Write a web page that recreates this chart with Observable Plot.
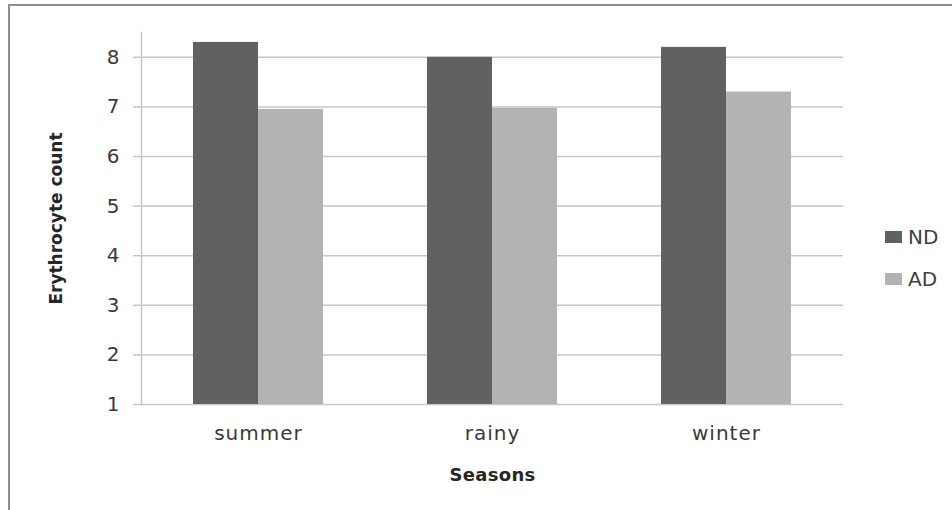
<!DOCTYPE html>
<html>
<head>
<meta charset="utf-8">
<script src="https://cdn.jsdelivr.net/npm/d3@7"></script>
<script src="https://cdn.jsdelivr.net/npm/@observablehq/plot@0.6"></script>
<style>
  html, body { margin: 0; padding: 0; background: #fff; }
  #wrap { position: relative; width: 952px; height: 510px; overflow: hidden; font-family: "DejaVu Sans", sans-serif; }
  #edge { position: absolute; left: 8px; top: 4px; width: 960px; height: 520px;
          border-left: 2px solid #8f8f8f; border-top: 2px solid #8f8f8f; }
  #chart { position: absolute; left: 0; top: 0; }
  #chart svg { font-family: "DejaVu Sans", sans-serif; }
  g[aria-label="fx-axis tick label"] text { letter-spacing: 1px; }
  g[aria-label="y-axis label"] text { font-size: 17px; font-weight: bold; fill: #262626; }
  g[aria-label="fx-axis label"] text { font-size: 18px; font-weight: bold; fill: #262626; letter-spacing: 0.3px; }
  .key { position: absolute; left: 885px; display: flex; align-items: center; font-size: 20px; color: #404040; }
  .key i { display: inline-block; width: 17px; height: 12px; margin-right: 6px; }
</style>
</head>
<body>
<div id="wrap">
  <div id="edge"></div>
  <div id="chart"></div>
</div>
<script>
// Mean erythrocyte count by season, for the ND and AD groups
const seasons = ["summer", "rainy", "winter"];
const series = ["ND", "AD"];
const ndValues = [8.3, 8.0, 8.2];
const adValues = [6.95, 6.97, 7.3];
const seriesColors = ["#616161", "#b3b3b3"];
const yTicks = [1, 2, 3, 4, 5, 6, 7, 8];

const rows = seasons.flatMap((season, i) => [
  {season, series: "ND", value: ndValues[i]},
  {season, series: "AD", value: adValues[i]}
]);

const grid = "#c6c6c6";

const chart = Plot.plot({
  width: 952,
  height: 510,
  marginLeft: 140,
  marginRight: 109,
  marginTop: 32,
  marginBottom: 106,
  fx: {domain: seasons, padding: 0},
  x: {domain: series, paddingInner: 0, paddingOuter: 0.79, axis: null},
  y: {domain: [1, 8.5]},
  color: {domain: series, range: seriesColors},
  marks: [
    Plot.ruleY(yTicks, {stroke: grid, strokeWidth: 1.5}),
    Plot.barY(rows, {fx: "season", x: "series", y1: yTicks[0], y2: "value", fill: "series"}),
    Plot.frame({anchor: "left", facetAnchor: "left", stroke: grid, strokeWidth: 1.5}),
    Plot.axisY({
      ticks: yTicks, tickSize: 8, tickPadding: 14, stroke: grid, strokeWidth: 1.5,
      fill: "#3a3a3a", fontSize: 20, tickFormat: d3.format("d"),
      label: "Erythrocyte count", labelArrow: "none", labelAnchor: "center", labelOffset: 92
    }),
    Plot.axisFx({
      anchor: "bottom", tickSize: 0, tickPadding: 21, fill: "#3a3a3a", fontSize: 20,
      label: "Seasons", labelArrow: "none", labelAnchor: "center", labelOffset: 76
    })
  ]
});
document.getElementById("chart").appendChild(chart);

// Series key on the right
const wrap = document.getElementById("wrap");
const keyTops = [225, 267];
series.forEach((s, i) => {
  const k = document.createElement("div");
  k.className = "key";
  k.style.top = keyTops[i] + "px";
  k.innerHTML = `<i style="background:${seriesColors[i]}"></i><span>${s}</span>`;
  wrap.appendChild(k);
});
</script>
</body>
</html>
